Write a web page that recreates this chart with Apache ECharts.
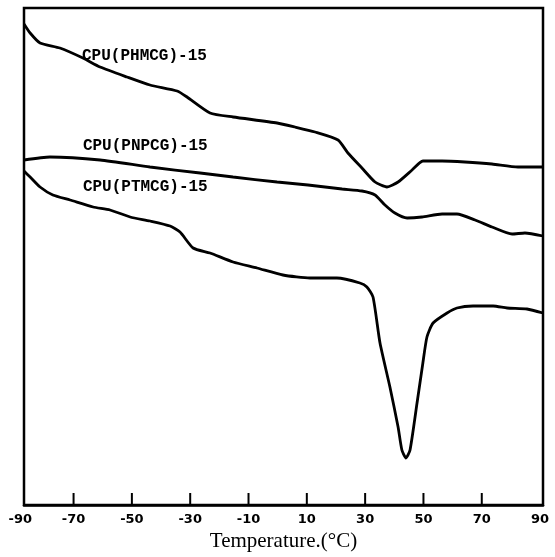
<!DOCTYPE html>
<html>
<head>
<meta charset="utf-8">
<script src="https://cdn.jsdelivr.net/npm/echarts@6/dist/echarts.min.js"></script>
<style>
  html, body { margin: 0; padding: 0; background: #fff; }
  #chart { width: 555px; height: 557px; }
</style>
</head>
<body>
<div id="chart"></div>
<script>
// DSC heating traces of the three CPU samples (heat flow in arbitrary units, endo down)
const phmcgTemp = [-87, -84.9, -81.5, -74.7, -66.8, -60.9, -51.7, -43.8, -34.5, -31.1, -23.2, -15.3, -0.2, 5.9, 12.8, 20.7, 24.1, 28.9, 33.4, 37.5, 41.3, 46.1, 49.8, 56.4, 64.2, 73.5, 82.4, 91];
const phmcgFlow = [481, 472, 462, 457, 447, 438, 428, 420, 414, 408, 392, 388, 382, 378, 373, 365, 352, 337, 323, 318, 323, 335, 344, 344, 343, 341, 338, 338];

const pnpcgTemp = [-87, -78.1, -60.9, -43.8, -26.6, -15.3, -0.2, 10.4, 22.1, 28.9, 33.4, 36.8, 40.2, 44.4, 49.5, 56.4, 61.5, 67.7, 73.5, 80.4, 84.8, 91];
const pnpcgFlow = [345, 348, 345, 338, 332, 328, 323, 320, 316, 314, 310, 300, 292, 287, 288, 291, 291, 285, 278, 271, 272, 269];

const ptmcgTemp = [-87, -84.9, -81.5, -77.1, -71.2, -63.3, -57.5, -50.6, -43.8, -36.9, -33.5, -29.0, -23.2, -15.3, -7.1, 1.8, 11.1, 20.3, 28.2, 30.6, 32.7, 35.1, 38.5, 41.3, 42.6, 44.0, 45.4, 47.8, 49.8, 51.2, 53.3, 58.1, 61.5, 67, 73.9, 78.7, 85.5, 91];
const ptmcgFlow = [334, 328, 318, 310, 305, 298, 295, 288, 284, 279, 273, 257, 252, 243, 237, 230, 227, 227, 222, 218, 208, 162, 118, 78, 55, 47, 55, 102, 142, 168, 182, 192, 197, 199, 199, 197, 196, 192];

const seriesNames = ['CPU(PHMCG)-15', 'CPU(PNPCG)-15', 'CPU(PTMCG)-15'];
// where each trace's caption starts: [temperature, heat flow]
const captionAnchors = [[-67.1, 449], [-66.8, 359], [-66.8, 318]];

const tickValues = [-70, -50, -30, -10, 10, 30, 50, 70];
const labelValues = [-70, -50, -30, -10, 10, 30, 50, 70, 90];
const leftLabel = -90;
const tickHeight = 12; // in heat-flow units (one unit per pixel on this frame)

const pairs = (xs, ys) => xs.map((x, i) => [x, ys[i]]);
const traces = [pairs(phmcgTemp, phmcgFlow), pairs(pnpcgTemp, pnpcgFlow), pairs(ptmcgTemp, ptmcgFlow)];

const labelFont = { fontFamily: 'DejaVu Sans', fontWeight: 'bold', fontSize: 13 };

const chart = echarts.init(document.getElementById('chart'), null, { renderer: 'canvas' });

const lineSeries = traces.map((data, i) => ({
  name: seriesNames[i],
  type: 'line',
  data: data,
  smooth: 0.2,
  showSymbol: false,
  symbol: 'none',
  lineStyle: { color: '#000', width: 2.8 },
  markPoint: {
    symbol: 'circle', symbolSize: 0,
    data: [{ coord: captionAnchors[i], value: seriesNames[i] }],
    label: {
      show: true, position: 'right', distance: 0,
      formatter: seriesNames[i],
      fontFamily: 'Liberation Mono', fontWeight: 'bold', fontSize: 16, color: '#000'
    }
  }
}));

// inward ticks standing on the bottom edge
const tickSeries = {
  name: 'ticks',
  type: 'custom',
  silent: true,
  clip: false,
  z: 10,
  data: tickValues.map(v => [v, 0]),
  renderItem: (params, api) => {
    const p0 = api.coord([api.value(0), 0]);
    const p1 = api.coord([api.value(0), tickHeight]);
    return {
      type: 'line',
      shape: { x1: p0[0], y1: p0[1], x2: p1[0], y2: p1[1] },
      style: { stroke: '#000', lineWidth: 2 }
    };
  }
};

chart.setOption({
  animationDuration: 200,
  backgroundColor: '#fff',
  grid: {
    left: 24, right: 12, top: 8, bottom: 52,
    outerBoundsMode: 'none', containLabel: false,
    show: true, borderColor: '#000', borderWidth: 2.5, backgroundColor: 'transparent'
  },
  xAxis: {
    type: 'value',
    min: -87, max: 91,
    name: 'Temperature.(°C)',
    nameLocation: 'middle',
    nameGap: 26,
    nameTextStyle: { fontFamily: 'Liberation Serif', fontSize: 21, color: '#000' },
    axisLine: { show: true, lineStyle: { color: '#000', width: 2.5 } },
    axisTick: { show: false },
    axisLabel: Object.assign({ customValues: labelValues, margin: 8, color: '#000' }, labelFont),
    splitLine: { show: false }
  },
  yAxis: {
    type: 'value', min: 0, max: 497,
    axisLine: { show: false }, axisTick: { show: false }, axisLabel: { show: false }, splitLine: { show: false }
  },
  series: lineSeries.concat([tickSeries])
});

// the -90 label sits just left of the frame, outside the axis range
const toPx = (x, y) => chart.convertToPixel({ gridIndex: 0 }, [x, y]);
const base = toPx(0, 0)[1];
const lx = toPx(leftLabel, 0)[0];
chart.setOption({
  graphic: {
    elements: [{
      type: 'text', x: lx + 5, y: base + 8, z: 100,
      style: Object.assign({ text: String(leftLabel), align: 'center', verticalAlign: 'top', fill: '#000' }, labelFont)
    }]
  }
});
</script>
</body>
</html>
